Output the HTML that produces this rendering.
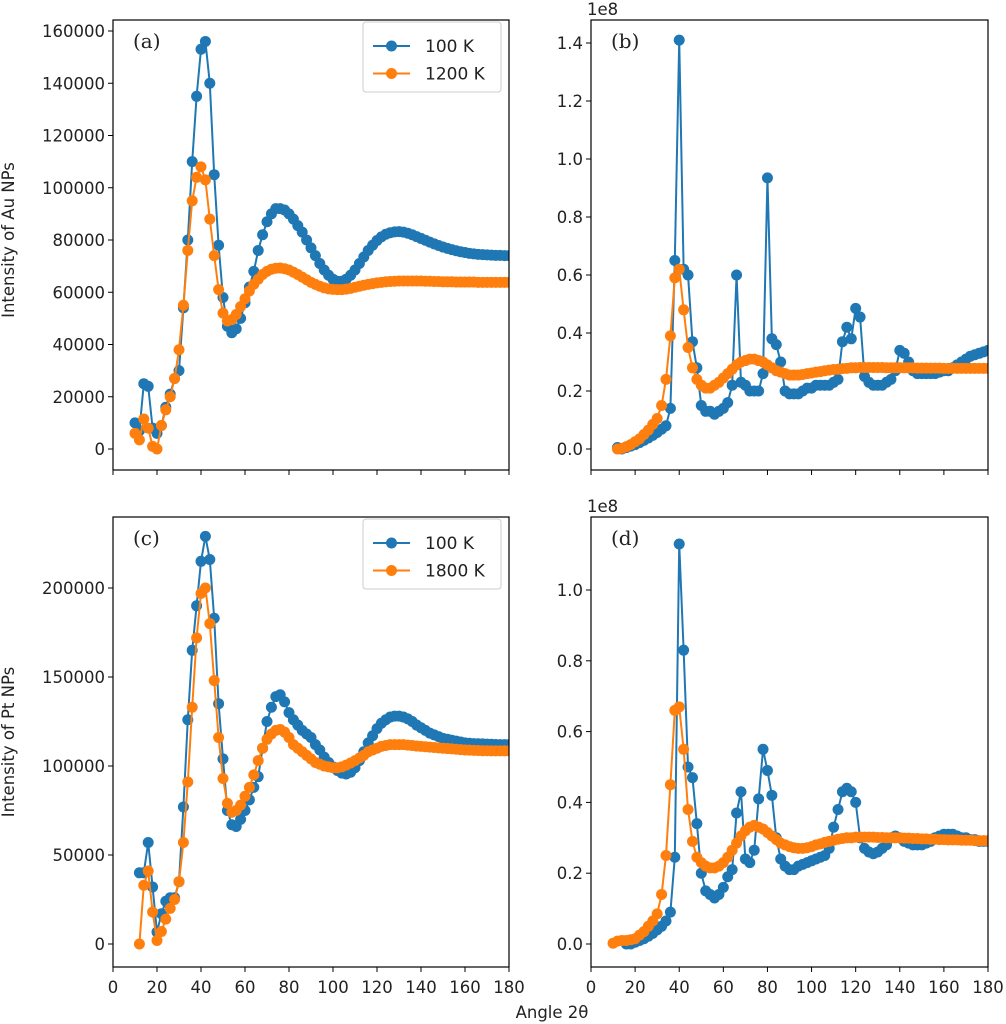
<!DOCTYPE html>
<html><head><meta charset="utf-8"><style>
body{margin:0;background:#fff}
svg{display:block}
text{font-family:"DejaVu Sans","Liberation Sans",sans-serif;fill:#222}
</style></head><body>
<svg id="fig" width="1006" height="1024" viewBox="0 0 1006 1024" xmlns="http://www.w3.org/2000/svg"></svg>
<script>
const angles=[10,12,14,16,18,20,22,24,26,28,30,32,34,36,38,40,42,44,46,48,50,52,54,56,58,60,62,64,66,68,70,72,74,76,78,80,82,84,86,88,90,92,94,96,98,100,102,104,106,108,110,112,114,116,118,120,122,124,126,128,130,132,134,136,138,140,142,144,146,148,150,152,154,156,158,160,162,164,166,168,170,172,174,176,178,180];
const auBlue=[10000,7000,25000,24000,8000,6000,9000,16000,21000,27000,30000,54000,80000,110000,135000,153000,156000,140000,105000,78000,58000,47000,44500,46000,50000,56000,62000,68000,76000,82000,87000,90000,92000,92000,91500,90000,88000,85500,83000,80000,77000,74000,71000,68500,66500,65000,64200,64200,65000,66500,68500,71000,73500,76000,78000,79800,81200,82200,82800,83100,83200,83000,82600,82000,81300,80600,79900,79200,78500,77900,77300,76800,76300,75900,75500,75200,74900,74700,74500,74400,74300,74200,74100,74100,74000,74000];
const auOrange=[6000,3500,11500,8000,1000,0,9000,15000,20000,27000,38000,55000,76000,95000,104000,108000,103000,88000,74000,61000,52000,49000,49500,51500,54500,57500,60500,63000,65000,66800,68000,68800,69200,69300,69000,68500,67700,66800,65800,64800,63800,63000,62300,61700,61300,61100,61000,61000,61200,61500,61900,62300,62700,63000,63300,63600,63800,64000,64100,64200,64300,64300,64300,64300,64300,64300,64200,64200,64100,64100,64000,64000,64000,63900,63900,63900,63900,63900,63800,63800,63800,63800,63800,63800,63800,63800];
const auBlueE8=[null,0.005,0.0,0.005,0.01,0.015,0.022,0.03,0.038,0.047,0.057,0.068,0.08,0.14,0.65,1.41,0.62,0.60,0.37,0.28,0.15,0.13,0.13,0.12,0.13,0.14,0.16,0.22,0.60,0.23,0.22,0.2,0.2,0.2,0.26,0.935,0.38,0.36,0.3,0.2,0.19,0.19,0.19,0.2,0.21,0.21,0.22,0.22,0.22,0.22,0.23,0.24,0.37,0.42,0.38,0.485,0.455,0.25,0.23,0.22,0.22,0.22,0.23,0.24,0.27,0.34,0.33,0.30,0.27,0.26,0.26,0.26,0.26,0.26,0.265,0.27,0.27,0.28,0.29,0.30,0.31,0.32,0.325,0.33,0.335,0.34];
const auOrangeE8=[null,0.0,0.002,0.008,0.015,0.025,0.035,0.05,0.065,0.085,0.105,0.15,0.24,0.39,0.59,0.62,0.48,0.35,0.28,0.24,0.22,0.21,0.21,0.22,0.23,0.245,0.26,0.275,0.29,0.30,0.305,0.31,0.31,0.305,0.30,0.29,0.28,0.27,0.265,0.26,0.255,0.255,0.255,0.257,0.26,0.262,0.265,0.267,0.27,0.272,0.274,0.275,0.277,0.278,0.28,0.28,0.281,0.281,0.281,0.281,0.281,0.281,0.28,0.28,0.28,0.28,0.28,0.28,0.28,0.279,0.279,0.279,0.279,0.279,0.279,0.278,0.278,0.278,0.278,0.278,0.278,0.278,0.278,0.278,0.278,0.278];
const ptBlue=[null,40000,40000,57000,32000,6700,17000,24000,26000,26000,35000,77000,126000,165000,190000,215000,229000,216000,183000,135000,104000,75000,67000,66000,70000,75000,81000,88000,94000,110000,125000,133000,139000,140000,136000,130000,126000,123000,120000,118000,116000,112000,109000,105000,102000,99500,97500,96000,95500,96500,99000,103000,108000,113000,117000,121000,124000,126000,127500,128000,128000,127500,126500,125000,123000,121500,120000,118500,117500,116500,115500,115000,114500,114000,113500,113000,112800,112600,112500,112400,112300,112200,112100,112000,112000,112000];
const ptOrange=[null,0,33000,41000,18000,2000,7000,14000,20000,25000,35000,57000,91000,133000,172000,197000,200000,180000,148000,116000,93000,79000,74000,75000,78000,83000,88000,95000,103000,110000,115000,118000,120000,120500,119000,116000,112000,110000,108000,106000,104000,102000,101000,100000,99500,99000,99000,99500,100500,101700,103000,104500,106000,108000,109000,110000,111000,111500,112000,112000,112000,112000,111700,111500,111200,111000,110800,110600,110400,110200,110000,109800,109600,109400,109200,109000,108900,108800,108700,108600,108600,108500,108500,108500,108500,108500];
const ptBlueE8=[null,null,null,0.0,0.0,0.005,0.01,0.015,0.022,0.03,0.04,0.05,0.065,0.09,0.245,1.13,0.83,0.50,0.47,0.34,0.2,0.15,0.14,0.13,0.14,0.16,0.19,0.21,0.37,0.43,0.24,0.23,0.265,0.41,0.55,0.49,0.42,0.30,0.24,0.22,0.21,0.21,0.22,0.225,0.23,0.235,0.24,0.245,0.25,0.27,0.33,0.38,0.43,0.44,0.43,0.40,0.30,0.27,0.26,0.255,0.26,0.27,0.28,0.30,0.305,0.30,0.29,0.285,0.28,0.28,0.28,0.285,0.29,0.30,0.305,0.31,0.31,0.31,0.305,0.30,0.30,0.295,0.295,0.29,0.29,0.29];
const ptOrangeE8=[0.002,0.008,0.01,0.01,0.012,0.015,0.025,0.035,0.05,0.065,0.085,0.14,0.25,0.45,0.66,0.67,0.55,0.38,0.29,0.245,0.23,0.22,0.215,0.215,0.22,0.23,0.245,0.265,0.285,0.305,0.32,0.33,0.335,0.33,0.325,0.315,0.305,0.295,0.285,0.28,0.275,0.272,0.27,0.27,0.272,0.275,0.28,0.283,0.287,0.29,0.293,0.296,0.298,0.30,0.30,0.302,0.302,0.302,0.302,0.302,0.301,0.301,0.3,0.3,0.3,0.3,0.299,0.299,0.298,0.298,0.297,0.297,0.296,0.296,0.295,0.295,0.294,0.294,0.294,0.293,0.293,0.293,0.292,0.292,0.292,0.292];
const xTicks=[0,20,40,60,80,100,120,140,160,180];
const ticksA=[0,20000,40000,60000,80000,100000,120000,140000,160000];
const ticksB=[0.0,0.2,0.4,0.6,0.8,1.0,1.2,1.4];
const ticksC=[0,50000,100000,150000,200000];
const ticksD=[0.0,0.2,0.4,0.6,0.8,1.0];

const NS="http://www.w3.org/2000/svg";
const svg=document.getElementById('fig');
function mk(tag,attrs,parent){const e=document.createElementNS(NS,tag);for(const k in attrs)e.setAttribute(k,attrs[k]);(parent||svg).appendChild(e);return e;}
const BLUE="#1f77b4",ORANGE="#ff7f0e";
const FS=16.5;

function panel(id,box,y0px,ytopVal,ytopPx,yticks,fmt,series,label,showX,legend,offset){
  const g=mk('g',{});
  
  
  const xs=v=>box.x0+(v/180)*(box.x1-box.x0);
  const ys=v=>y0px-(v/ytopVal)*(y0px-ytopPx);
  const cp=mk('clipPath',{id:'clip'+id},g);
  mk('rect',{x:box.x0,y:box.y0,width:box.x1-box.x0,height:box.y1-box.y0},cp);
  const plot=mk('g',{'clip-path':'url(#clip'+id+')'},g);
  series.forEach(s=>{
    const sg=mk('g',{},plot);
    
    
    let d='';
    s.vals.forEach((v,i)=>{if(v===null)return;d+=(d?'L':'M')+xs(angles[i]).toFixed(2)+' '+ys(v).toFixed(2);});
    const ln=mk('path',{d:d,fill:'none',stroke:s.color,'stroke-width':2},sg);
    
    
    s.vals.forEach((v,i)=>{if(v===null)return;
      const c=mk('circle',{cx:xs(angles[i]).toFixed(2),cy:ys(v).toFixed(2),r:5.5,fill:s.color},sg);
      
      
    });
  });
  const fr=mk('rect',{x:box.x0,y:box.y0,width:box.x1-box.x0,height:box.y1-box.y0,fill:'none',stroke:'#000','stroke-width':1.2},g);
  
  
  xTicks.forEach(t=>{
    mk('line',{x1:xs(t),x2:xs(t),y1:box.y1,y2:box.y1+5,stroke:'#000','stroke-width':1},g);
    if(showX){const tx=mk('text',{x:xs(t),y:box.y1+26,'text-anchor':'middle','font-size':FS},g);tx.textContent=t;
      
      }
  });
  yticks.forEach(t=>{
    mk('line',{x1:box.x0-5,x2:box.x0,y1:ys(t),y2:ys(t),stroke:'#000','stroke-width':1},g);
    const tx=mk('text',{x:box.x0-8,y:ys(t)+6,'text-anchor':'end','font-size':FS},g);tx.textContent=fmt(t);
    
    
  });
  const lb=mk('text',{x:box.x0+20,y:box.y0+28,'font-size':20,style:'font-family:"DejaVu Serif","Liberation Serif",serif'},g);
  lb.textContent=label;
  
  
  if(legend){
    const lg=mk('g',{},g);
    
    
    mk('rect',{x:363,y:offset+22,width:138,height:70,rx:3,fill:'#fff','fill-opacity':0.8,stroke:'#ccc'},lg);
    legend.forEach((L,i)=>{
      const yy=offset+46+i*27.5;
      const e=mk('g',{},lg);
      
      
      mk('line',{x1:373,x2:410,y1:yy,y2:yy,stroke:L.color,'stroke-width':2},e);
      mk('circle',{cx:391.5,cy:yy,r:5.5,fill:L.color},e);
      const t=mk('text',{x:425,y:yy+6,'font-size':FS+0.5},e);t.textContent=L.text;
    });
  }
  if(fmt===f2){const t=mk('text',{x:box.x0-4,y:box.y0-5,'font-size':FS},g);t.textContent='1e8';
    
    }
}
const f0=v=>String(v);
const f2=v=>v.toFixed(1);
panel('a',{x0:113,x1:509,y0:20,y1:470},449,160000,31,ticksA,f0,
  [{name:'au-100k',vals:auBlue,color:BLUE},{name:'au-1200k',vals:auOrange,color:ORANGE}],'(a)',false,
  [{text:'100 K',color:BLUE},{text:'1200 K',color:ORANGE}],0);
panel('b',{x0:591,x1:988,y0:20,y1:470},449,1.4,43,ticksB,f2,
  [{name:'au-100k-e8',vals:auBlueE8,color:BLUE},{name:'au-1200k-e8',vals:auOrangeE8,color:ORANGE}],'(b)',false,null,0);
panel('c',{x0:113,x1:509,y0:517,y1:967},944,200000,588,ticksC,f0,
  [{name:'pt-100k',vals:ptBlue,color:BLUE},{name:'pt-1800k',vals:ptOrange,color:ORANGE}],'(c)',true,
  [{text:'100 K',color:BLUE},{text:'1800 K',color:ORANGE}],497);
panel('d',{x0:591,x1:988,y0:517,y1:967},944,1.0,590,ticksD,f2,
  [{name:'pt-100k-e8',vals:ptBlueE8,color:BLUE},{name:'pt-1800k-e8',vals:ptOrangeE8,color:ORANGE}],'(d)',true,null,497);

let t=mk('text',{x:0,y:0,'font-size':FS,'text-anchor':'middle',transform:'translate(14,240) rotate(-90)'});
t.textContent='Intensity of Au NPs';


t=mk('text',{x:0,y:0,'font-size':FS,'text-anchor':'middle',transform:'translate(14,742) rotate(-90)'});
t.textContent='Intensity of Pt NPs';


t=mk('text',{x:552,y:1018,'font-size':FS,'text-anchor':'middle'});
t.textContent='Angle 2θ';


</script>
</body></html>
